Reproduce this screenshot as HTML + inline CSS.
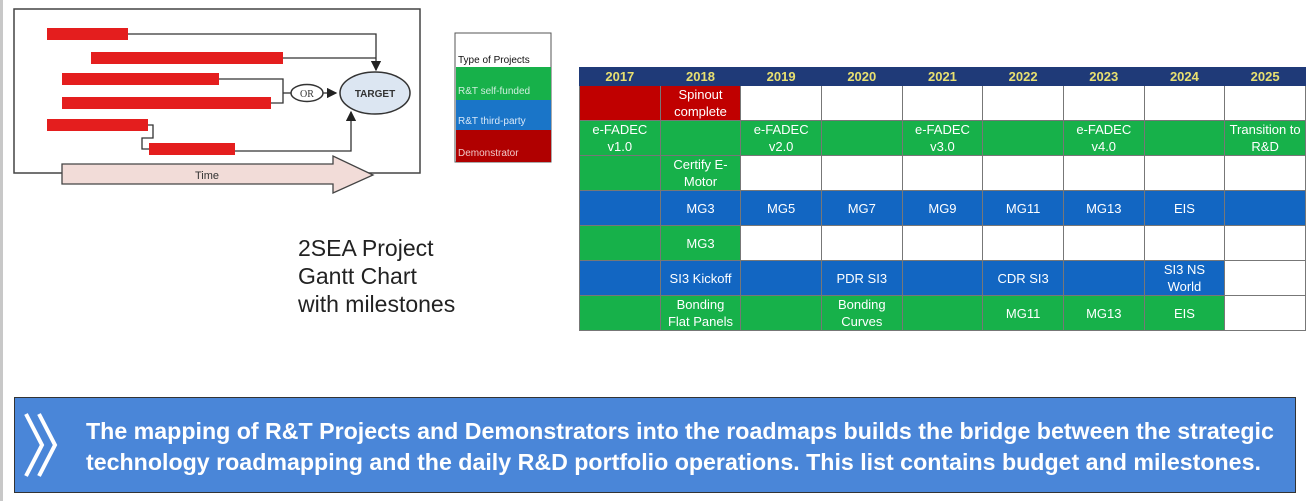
<!DOCTYPE html>
<html><head><meta charset="utf-8"><style>
body{margin:0;width:1308px;height:501px;background:#fff;overflow:hidden;font-family:"Liberation Sans",sans-serif;position:relative}
.t{position:absolute}
table{position:absolute;left:579px;top:67px;border-collapse:collapse;table-layout:fixed;width:727px}
td{border:1px solid #777;text-align:center;color:#fff;font-size:13px;line-height:17px;padding:0;overflow:hidden;white-space:nowrap}
tr.h td{background:#1f3a78;color:#e8e070;font-weight:bold;height:17px;font-size:13px;border-color:#1f3a78}
tr.r td{height:34px}
.g{background:#17b14a}.b{background:#1266c2}.r{background:#c00000}.w{background:#fff}
</style></head><body>
<div style="position:absolute;left:0;top:0;width:3px;height:501px;background:#c8c8c8"></div>
<svg class="t" style="left:0;top:0" width="570" height="200">
<defs><marker id="a" markerWidth="8" markerHeight="8" refX="7" refY="4" orient="auto"><path d="M0,0L8,4L0,8z" fill="#222"/></marker></defs>
<rect x="14" y="9" width="406" height="164" fill="#fff" stroke="#444" stroke-width="1.5"/>
<g fill="none" stroke="#333" stroke-width="1.3">
<path d="M128,34H376V70" marker-end="url(#a)"/>
<path d="M283,58H376"/>
<path d="M219,79H283V103H271"/>
<path d="M283,93H291"/>
<path d="M323,93H336" marker-end="url(#a)"/>
<path d="M148,125H153V138H142V149H149"/>
<path d="M235,151H351V112" marker-end="url(#a)"/>
</g>
<g fill="#e41e1e">
<rect x="47" y="28" width="81" height="12"/><rect x="91" y="52" width="192" height="12"/>
<rect x="62" y="73" width="157" height="12"/><rect x="62" y="97" width="209" height="12"/>
<rect x="47" y="119" width="101" height="12"/><rect x="149" y="143" width="86" height="12"/>
</g>
<ellipse cx="307" cy="93" rx="16" ry="8.5" fill="#fff" stroke="#333" stroke-width="1.5"/>
<text x="307" y="97" font-size="10" text-anchor="middle" fill="#333" font-family="Liberation Serif">OR</text>
<ellipse cx="375" cy="93" rx="35" ry="21" fill="#dce6f2" stroke="#333" stroke-width="1.5"/>
<text x="375" y="97" font-size="10" font-weight="bold" text-anchor="middle" fill="#333">TARGET</text>
<path d="M62,164H333V156L373,175L333,193V184H62z" fill="#f2dcd8" stroke="#444" stroke-width="1.3"/>
<text x="207" y="179" font-size="11" text-anchor="middle" fill="#333">Time</text>
<rect x="455" y="33" width="96" height="129" fill="#fff" stroke="#555"/>
<rect x="456" y="67" width="95" height="33" fill="#17b14a"/>
<rect x="456" y="100" width="95" height="30" fill="#1a75c8"/>
<rect x="456" y="130" width="95" height="32" fill="#b00000"/>
<text x="458" y="63" font-size="10" fill="#111">Type of Projects</text>
<text x="458" y="94" font-size="10" fill="#cfeede">R&amp;T self-funded</text>
<text x="458" y="124" font-size="10" fill="#d8e8f8">R&amp;T third-party</text>
<text x="458" y="156" font-size="10" fill="#f0c8c8">Demonstrator</text>
</svg>
<div class="t" style="left:298px;top:234px;font-size:23px;line-height:28px;color:#222">2SEA Project<br>Gantt Chart<br>with milestones</div>
<table>
<tr class="h"><td>2017</td><td>2018</td><td>2019</td><td>2020</td><td>2021</td><td>2022</td><td>2023</td><td>2024</td><td>2025</td></tr>
<tr class="r"><td class="r"></td><td class="r">Spinout<br>complete</td><td class="w"></td><td class="w"></td><td class="w"></td><td class="w"></td><td class="w"></td><td class="w"></td><td class="w"></td></tr>
<tr class="r"><td class="g">e-FADEC<br>v1.0</td><td class="g"></td><td class="g">e-FADEC<br>v2.0</td><td class="g"></td><td class="g">e-FADEC<br>v3.0</td><td class="g"></td><td class="g">e-FADEC<br>v4.0</td><td class="g"></td><td class="g">Transition to<br>R&amp;D</td></tr>
<tr class="r"><td class="g"></td><td class="g">Certify E-<br>Motor</td><td class="w"></td><td class="w"></td><td class="w"></td><td class="w"></td><td class="w"></td><td class="w"></td><td class="w"></td></tr>
<tr class="r"><td class="b"></td><td class="b">MG3</td><td class="b">MG5</td><td class="b">MG7</td><td class="b">MG9</td><td class="b">MG11</td><td class="b">MG13</td><td class="b">EIS</td><td class="b"></td></tr>
<tr class="r"><td class="g"></td><td class="g">MG3</td><td class="w"></td><td class="w"></td><td class="w"></td><td class="w"></td><td class="w"></td><td class="w"></td><td class="w"></td></tr>
<tr class="r"><td class="b"></td><td class="b">SI3 Kickoff</td><td class="b"></td><td class="b">PDR SI3</td><td class="b"></td><td class="b">CDR SI3</td><td class="b"></td><td class="b">SI3 NS<br>World</td><td class="w"></td></tr>
<tr class="r"><td class="g"></td><td class="g">Bonding<br>Flat Panels</td><td class="g"></td><td class="g">Bonding<br>Curves</td><td class="g"></td><td class="g">MG11</td><td class="g">MG13</td><td class="g">EIS</td><td class="w"></td></tr>
</table>
<div class="t" style="left:14px;top:397px;width:1280px;height:94px;background:#4a86d8;border:1px solid #333"></div>
<svg class="t" style="left:22px;top:410px" width="45" height="70"><g fill="none" stroke="#fff" stroke-width="4"><path d="M4,4L20,35L4,66"/><path d="M17,4L33,35L17,66"/></g></svg>
<div class="t" style="left:86px;top:416px;width:1215px;font-size:23.2px;line-height:31px;font-weight:bold;color:#fff;white-space:nowrap">The mapping of R&amp;T Projects and Demonstrators into the roadmaps builds the bridge between the strategic<br>technology roadmapping and the daily R&amp;D portfolio operations. This list contains budget and milestones.</div>
</body></html>
